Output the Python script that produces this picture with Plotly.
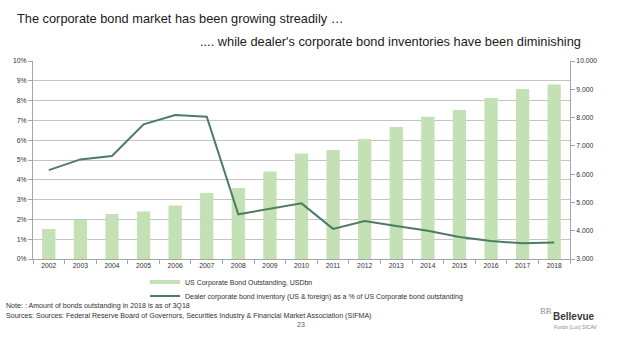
import plotly.graph_objects as go

years = ["2002", "2003", "2004", "2005", "2006", "2007", "2008", "2009", "2010",
         "2011", "2012", "2013", "2014", "2015", "2016", "2017", "2018"]
outstanding_usdbn = [4060, 4380, 4590, 4680, 4890, 5330, 5510, 6090, 6730,
                     6850, 7240, 7670, 8030, 8270, 8690, 9010, 9170]
dealer_inventory_pct = [0.0449, 0.0503, 0.0520, 0.0680, 0.0727, 0.0719, 0.0226, 0.0253, 0.0281,
                        0.0152, 0.0192, 0.0167, 0.0143, 0.0111, 0.0091, 0.0079, 0.0083]

bar_name = "US Corporate Bond Outstanding, USDbn"
line_name = "Dealer corporate bond inventory (US & foreign) as a % of US Corporate bond outstanding"
title1 = "The corporate bond market has been growing streadily …"
title2 = ".... while dealer's corporate bond inventories have been diminishing"
note_text = "Note: : Amount of bonds outstanding in 2018 is as of 3Q18"
source_text = ("Sources: Sources: Federal Reserve Board of Governors, Securities Industry & "
               "Financial Market Association (SIFMA)")

W, H = 617, 341
L, R, T, B = 33, 570, 61, 259

def px(x):
    return (x - L) / (R - L)

def py(y):
    return (B - y) / (B - T)

BAR_COLOR = "#c3e1b5"
LINE_COLOR = "#4d7c62"
GRID = "#c4c4c4"
AXIS = "#a6a6a6"
FONT = "Liberation Sans, Arial, sans-serif"
TXT = "#303030"

fig = go.Figure()
fig.add_trace(go.Bar(x=years, y=outstanding_usdbn, name=bar_name, marker_color=BAR_COLOR,
                     marker_line_width=0, yaxis="y", showlegend=False))
fig.add_trace(go.Scatter(x=years, y=dealer_inventory_pct, name=line_name, mode="lines",
                         line=dict(color=LINE_COLOR, width=2), yaxis="y2", legend="legend2"))
# legend proxy for the bar series (line-style swatch as in the source)
fig.add_trace(go.Scatter(x=[None], y=[None], name=bar_name, mode="lines",
                         line=dict(color=BAR_COLOR, width=4), yaxis="y2", legend="legend"))

tickfont = dict(family=FONT, size=6.8, color=TXT)
legfont = dict(family=FONT, size=7, color=TXT)
fig.update_layout(
    width=W, height=H,
    margin=dict(l=L, r=W - R, t=T, b=H - B, pad=0),
    paper_bgcolor="white", plot_bgcolor="white",
    separators=",.",
    bargap=0.58,
    font=dict(family=FONT, color=TXT),
    xaxis=dict(type="category", showline=True, linecolor=AXIS, linewidth=1,
               ticks="outside", tickson="boundaries", ticklen=4, tickcolor=AXIS,
               tickfont=tickfont, showgrid=False, fixedrange=True),
    yaxis=dict(side="right", range=[3000, 10000], dtick=1000, tickformat=",d",
               showgrid=False, showline=True, linecolor=AXIS, linewidth=1,
               ticks="outside", ticklen=4, tickcolor=AXIS, tickfont=tickfont, zeroline=False),
    yaxis2=dict(overlaying="y", side="left", range=[0, 0.10], dtick=0.01, tickformat=".0%",
                showgrid=True, gridcolor=GRID, gridwidth=1, showline=True, linecolor=AXIS,
                linewidth=1, ticks="outside", ticklen=4, tickcolor=AXIS, tickfont=tickfont,
                zeroline=False),
    legend=dict(x=px(145), y=py(282), xanchor="left", yanchor="middle",
                font=legfont, bgcolor="rgba(0,0,0,0)", itemwidth=30),
    legend2=dict(x=px(145), y=py(296), xanchor="left", yanchor="middle",
                 font=legfont, bgcolor="rgba(0,0,0,0)", itemwidth=30),
)

ann = [
    dict(text=title1, x=px(15), y=py(18), xanchor="left", yanchor="middle",
         font=dict(family=FONT, size=12.8, color="#1a1a1a")),
    dict(text=title2, x=px(583), y=py(41), xanchor="right", yanchor="middle",
         font=dict(family=FONT, size=12.8, color="#1a1a1a")),
    dict(text=note_text, x=px(4), y=py(306), xanchor="left", yanchor="middle",
         font=dict(family=FONT, size=7.1, color=TXT)),
    dict(text=source_text, x=px(4), y=py(316), xanchor="left", yanchor="middle",
         font=dict(family=FONT, size=7.1, color=TXT)),
    dict(text="23", x=px(301), y=py(324), xanchor="center", yanchor="middle",
         font=dict(family=FONT, size=7, color="#555555")),
    dict(text="BB", x=px(538), y=py(311), xanchor="left", yanchor="middle",
         font=dict(family="Liberation Serif, serif", size=8.5, color="#8a8a8a")),
    dict(text="<b>Bellevue</b>", x=px(551), y=py(316), xanchor="left", yanchor="middle",
         font=dict(family=FONT, size=10, color="#3a3a3a")),
    dict(text="Funds (Lux) SICAV", x=px(552), y=py(327), xanchor="left", yanchor="middle",
         font=dict(family=FONT, size=5, color="#8a8a8a")),
]
for a in ann:
    a.update(xref="paper", yref="paper", showarrow=False)
fig.update_layout(annotations=ann)

fig.write_html("out.html")
